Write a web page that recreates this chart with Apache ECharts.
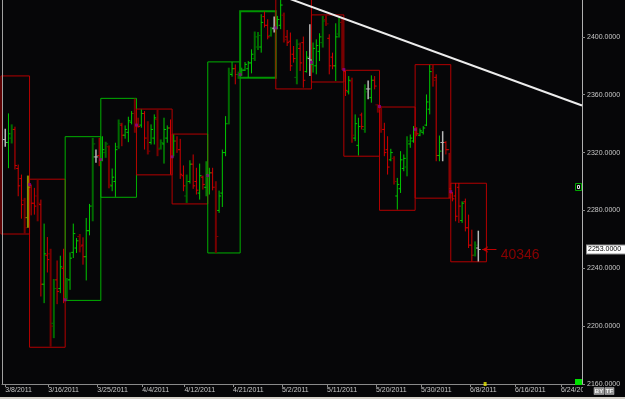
<!DOCTYPE html>
<html><head><meta charset="utf-8">
<script src="https://cdn.jsdelivr.net/npm/echarts@6/dist/echarts.min.js"></script>
<style>html,body{margin:0;padding:0;background:#060608;}#c{width:625px;height:399px;}</style>
</head><body><div id="c"></div>
<script>
// ---- X axis date ticks (bar slot positions) ----
const tickSlots = [1, 14.3, 29.4, 43.3, 56.3, 71.3, 86.4, 100.3, 115.4, 129.3, 144.4, 158.3, 172.5];
const tickLabels = ['3/8/2011','3/16/2011','3/25/2011','4/4/2011','4/12/2011','4/21/2011','5/2/2011','5/11/2011','5/20/2011','5/30/2011','6/8/2011','6/16/2011','6/24/2011'];
const yTicks = [2160, 2200, 2240, 2280, 2320, 2360, 2400];

// ---- OHLC bars (one per slot, starting at slot 1) ----
const barOpen = [
 2329,2327,2330,2336,2309,2302,2287,2275,
 2297,2285,2290,2284,2229,2249,2250,2202,2232,2226,2240,
 2219,2232,2251,2254,2262,2256,2248,2266,2283,2317,2318,
 2315,2320,2324,2297,2300,2324,2339,2332,2334,2341,2347,
 2339,2339,2347,2330,2327,2330,2343,2323,2326,2330,2337,
 2317,2328,2322,2304,2290,2300,2312,2300,2292,2303,2296,
 2304,2306,2296,2280,2292,2320,2340,2374,2378,2374,
 2374,2377,2378,2382,2385,2393,2393,2414,2408,2401,2406,
 2406,2408,2415,2400,2397,2388,2372,2392,2396,2376,2385,
 2381,2380,2390,2396,2412,2399,2386,2380,2402,2410,
 2376,2362,2369,2330,2325,2346,2336,2364,2358,2370,2353,
 2350,2336,2322,2315,2316,2290,2295,2309,2310,2326,2328,
 2336,2332,2334,2339,2350,2378,2372,2318,2327,2327,2322,
 2292,2290,2296,2273,2286,2268,2256,2249,2254];
const barClose = [
 2327,2333,2336,2311,2297,2284,2268,2296,
 2285,2283,2285,2229,2250,2246,2200,2226,2224,2241,2219,
 2232,2247,2264,2259,2255,2248,2266,2283,2326,2317,2315,
 2322,2326,2298,2303,2322,2340,2332,2336,2342,2347,2339,
 2338,2347,2330,2321,2336,2344,2322,2327,2336,2337,2317,
 2328,2322,2305,2297,2300,2312,2297,2294,2304,2298,2305,
 2306,2296,2262,2290,2320,2340,2375,2378,2374,2374,
 2377,2381,2382,2388,2400,2401,2410,2408,2400,2405,2406,
 2412,2422,2398,2396,2380,2385,2395,2382,2370,2386,2384,
 2392,2394,2400,2411,2409,2380,2380,2400,2410,2377.5,
 2363,2370,2332,2340,2338,2338,2362,2364,2370,2366,2352,
 2336,2320,2310,2320,2300,2298,2315,2316,2328,2330,2336,
 2333,2335,2337,2355,2376,2370,2318,2321,2327,2322,2295,
 2288,2276,2283,2285,2268,2256,2249,2256,2253];
const barLow = [
 2324,2309.2,2326.3,2308.3,2289.8,2274.3,2263.9,2268,
 2276.6,2277.1,2272.5,2220.5,2215.9,2237.1,2185.8,2191.7,2215.2,2222.8,2215.9,
 2218.2,2225.1,2247.1,2250.6,2251,2242.5,2231.6,2262.8,2272.5,2312.9,2310.6,
 2314,2316.4,2295.3,2293.3,2289.4,2322.6,2324.4,2329.6,2327.2,2339.5,2333.7,
 2337.2,2337.2,2322.1,2318.7,2325.6,2325.6,2317.5,2322.1,2312.4,2326.8,2304.8,
 2317.5,2319.8,2301.8,2293.3,2285.2,2298.6,2294.9,2291,2287.5,2294.4,2289.8,
 2291,2293.9,2250.6,2278.3,2282.4,2317.5,2339.5,2372.5,2367.2,2371,
 2372.9,2376.4,2371.8,2374.8,2383.3,2390.9,2389.1,2406.5,2398.3,2400.2,2403,
 2405.3,2405.3,2396.1,2393.7,2376.4,2382.2,2367.2,2376.4,2364.9,2375.3,2372.9,
 2375.3,2374.1,2383.3,2392.6,2407.6,2374.1,2377.6,2369.5,2399.5,2377,
 2359.1,2360.2,2326.8,2327.9,2318,2336,2333.7,2356.8,2354.5,2363.7,2347.6,
 2333.7,2317.5,2304.8,2314,2297.9,2280.6,2292.1,2307.1,2303.6,2323.3,2326.8,
 2331.3,2331.3,2332.5,2338.3,2346.4,2365.6,2314,2314,2314,2318.7,2288.5,
 2286.3,2272.5,2271.4,2271.4,2265.5,2254,2244.7,2248.2,2244.7];
const barHigh = [
 2336.5,2347.1,2339.5,2337.9,2311.7,2304.8,2288.7,2304.1,
 2297.9,2295.6,2301.3,2287.5,2270.9,2261.6,2253.5,2232.6,2245.4,2248.7,2253.5,
 2233.3,2251,2270.9,2260.9,2263.7,2261.4,2274.8,2284.5,2330.2,2322.1,2330.2,
 2331.3,2327.5,2324.9,2309,2326.8,2342.9,2340.6,2338.8,2344.8,2348.7,2357.3,
 2344.1,2349.8,2348.7,2341.7,2339.5,2346.4,2349.8,2329.1,2344.1,2338.8,2342.9,
 2332.5,2331.3,2329.5,2311.1,2304.8,2314.7,2318.7,2309.5,2312.4,2304.1,2314,
 2309.5,2309.5,2300.2,2293.7,2322.1,2345.2,2378.7,2382.6,2381,2376,
 2378.7,2382.6,2383.3,2391.4,2403.7,2403.4,2415.7,2417.5,2412.2,2406.9,2414.1,
 2414.5,2428,2416.8,2404.8,2403,2393.7,2398.3,2396.1,2400.2,2390.2,2408.7,
 2396.1,2398.3,2402.5,2414.5,2415,2401.8,2389.1,2409.4,2413.4,2413.4,
 2376.4,2372.9,2371.8,2346.4,2344.1,2347.6,2367.2,2369.9,2373.4,2372.9,2353.3,
 2352.1,2340.6,2331.3,2322.6,2317.5,2302.5,2321,2318.7,2331.3,2332.5,2338.3,
 2337.6,2336.7,2338.3,2360.2,2380.6,2380.6,2374.1,2331.8,2334.8,2327.9,2319.8,
 2292.8,2299,2299,2286.3,2288.2,2277.1,2266.7,2258.6,2266];
// bar kind: G up, g up (dark), R down, r down (dark), W neutral, Y olive
const barKind = [
 'W','G','g','R','R','R','r','Y',
 'R','R','r','R','G','R','r','g','R','G','R',
 'g','G','G','G','r','R','G','G','g','W','R',
 'G','g','r','G','G','g','R','G','G','G','r',
 'R','G','R','r','G','G','r','g','G','G','R',
 'G','r','R','R','g','G','R','R','G','R','G',
 'G','R','r','G','G','G','g','G','R','g',
 'G','G','G','G','g','g','G','R','R','g','W',
 'G','G','r','R','R','R','g','R','R','G','W',
 'G','G','G','g','r','R','R','G','g','r',
 'R','G','r','G','G','R','g','W','G','R','r',
 'r','R','R','G','r','G','G','G','g','G','G',
 'R','G','G','G','G','r','R','G','W','R','R',
 'R','R','R','G','R','R','R','g','W'];

// ---- Weekly range boxes ----
const weekStart = [-0.3, 8.5, 19.5, 30.5, 41.5, 52.5, 63.5, 73.5, 84.5, 95.5, 105.5, 116.5, 127.5, 138.5];
const weekEnd   = [8.5, 19.5, 30.5, 41.5, 52.5, 63.5, 73.5, 84.5, 95.5, 105.5, 116.5, 127.5, 138.5, 149.5];
const weekHigh  = [2373, 2301.6, 2331, 2357.5, 2350.1, 2332.8, 2382.7, 2417.7, 2428, 2415.2, 2376.9, 2351.5, 2380.8, 2298.8];
const weekLow   = [2263.7, 2185.4, 2217.8, 2289.1, 2304.6, 2284.5, 2250.6, 2371.8, 2364, 2368.8, 2317.5, 2280.1, 2288.5, 2244.5];
const weekOpen  = [2340, 2297.9, 2218.2, 2315.2, 2339, 2317.1, 2304.1, 2373.9, 2406.2, 2382.4, 2377.4, 2351.9, 2336, 2293];
const weekClose = [2297.9, 2218.2, 2315.2, 2339, 2317.1, 2304.1, 2373.9, 2406.2, 2382.4, 2377.4, 2351.9, 2336, 2293, 2253];

// ---- Trendline and last-price annotations ----
const trendSlots = [85, 179];
const trendValues = [2429.4, 2352.6];
const lastPrice = 2253;
const tagText = '40346';
const markerSlot = 149.1;

const kindColor = {G:'#00c800', g:'#006a00', R:'#d20000', r:'#760000', W:'#b8b8b8', Y:'#8c8c00'};
const kindWidth = {G:1, g:2, R:1, r:2, W:1.5, Y:2};

const ohlcData = barOpen.map((o, i) => [i + 1, o, barClose[i], barLow[i], barHigh[i]]);
const weekData = weekStart.map((s, i) => [s, weekEnd[i], weekHigh[i], weekLow[i], weekOpen[i], weekClose[i]]);
const openMarks = weekStart.slice(1).map((s, i) => [s, weekOpen[i + 1]]);
const trendData = trendSlots.map((s, i) => [s, trendValues[i]]);

const chart = echarts.init(document.getElementById('c'), null, {renderer: 'canvas'});
const FONT = 'Liberation Sans';
const AX = '#8a8a8a';

chart.setOption({
  animation: false,
  backgroundColor: '#060608',
  grid: {left: 2, right: 43, top: 0, bottom: 15},
  xAxis: {
    type: 'value', min: 0, max: 179,
    splitLine: {show: false},
    axisLine: {show: true, onZero: false, lineStyle: {color: AX, width: 1}},
    axisTick: {show: true, customValues: tickSlots, length: 3, lineStyle: {color: AX}},
    axisLabel: {
      show: true, customValues: tickSlots, interval: 0, align: 'left', margin: 3,
      color: '#c8c8c8', fontSize: 7, fontFamily: FONT,
      formatter: v => {
        let best = 0;
        tickSlots.forEach((t, i) => { if (Math.abs(t - v) < Math.abs(tickSlots[best] - v)) best = i; });
        return tickLabels[best];
      }
    }
  },
  yAxis: {
    type: 'value', position: 'right', min: 2160, max: 2425.5,
    splitLine: {show: false},
    axisLine: {show: true, onZero: false, lineStyle: {color: '#b0b0b0', width: 1}},
    axisTick: {show: true, customValues: yTicks, length: 3, lineStyle: {color: AX}},
    axisLabel: {show: true, customValues: yTicks, margin: 5, color: '#c8c8c8', fontSize: 7, fontFamily: FONT,
      formatter: v => Number(v).toFixed(4)}
  },
  series: [
    {
      type: 'custom', name: 'weeks', data: weekData, z: 2,
      encode: {x: [0, 1], y: [2, 3]},
      renderItem: (params, api) => {
        const p1 = api.coord([api.value(0), api.value(2)]);
        const p2 = api.coord([api.value(1), api.value(3)]);
        const up = api.value(5) >= api.value(4);
        const heavy = params.dataIndex === 7;
        return {type: 'rect', shape: {x: p1[0], y: p1[1], width: p2[0] - p1[0], height: p2[1] - p1[1]},
          style: {fill: 'none', stroke: up ? (heavy ? '#009400' : '#00b000') : '#b40000', lineWidth: heavy ? 2 : 1}};
      }
    },
    {
      type: 'custom', name: 'bars', data: ohlcData, z: 3,
      encode: {x: 0, y: [1, 2, 3, 4]},
      renderItem: (params, api) => {
        const x = api.value(0);
        const pO = api.coord([x, api.value(1)]);
        const pC = api.coord([x, api.value(2)]);
        const pL = api.coord([x, api.value(3)]);
        const pH = api.coord([x, api.value(4)]);
        const k = barKind[params.dataIndex];
        const col = kindColor[k], lw = kindWidth[k];
        const t = 1.5;
        const st = {stroke: col, lineWidth: lw};
        return {type: 'group', children: [
          {type: 'line', shape: {x1: pH[0], y1: pH[1], x2: pL[0], y2: pL[1]}, style: st},
          {type: 'line', shape: {x1: pO[0] - t - lw / 2, y1: pO[1], x2: pO[0], y2: pO[1]}, style: {stroke: col, lineWidth: 1}},
          {type: 'line', shape: {x1: pC[0], y1: pC[1], x2: pC[0] + t + lw / 2, y2: pC[1]}, style: {stroke: col, lineWidth: 1}}
        ]};
      }
    },
    {
      type: 'scatter', name: 'weekOpen', data: openMarks, z: 4,
      symbol: 'rect', symbolSize: [3, 3], itemStyle: {color: '#8c008c'}
    },
    {
      type: 'line', name: 'trend', data: trendData, z: 5, symbol: 'none',
      lineStyle: {color: '#ececec', width: 2},
      markLine: {
        silent: true, symbol: ['none', 'none'],
        lineStyle: {color: 'rgba(0,0,0,0)', width: 1, type: 'solid'},
        label: {show: true, position: 'end', distance: 5, formatter: lastPrice.toFixed(4),
          backgroundColor: '#ffffff', color: '#000000', fontSize: 7, fontFamily: FONT,
          padding: [1, 10, 0, 1], borderColor: '#909090', borderWidth: 1},
        data: [{yAxis: lastPrice}]
      }
    },
    {
      type: 'scatter', name: 'tag', data: [[153.9, 2249.3]], z: 6, symbolSize: 0, clip: false,
      label: {show: true, position: 'right', distance: 0, formatter: tagText,
        color: '#a80000', fontSize: 14, fontFamily: FONT},
      markLine: {
        silent: true, symbol: ['none', 'arrow'], symbolSize: [5, 6],
        lineStyle: {color: '#c00000', width: 1, type: 'solid'}, label: {show: false},
        data: [[{coord: [152.6, lastPrice]}, {coord: [148.2, lastPrice]}]]
      }
    },
    {
      type: 'scatter', name: 'marker', data: [[markerSlot, 2160]], z: 6, clip: false,
      symbol: 'rect', symbolSize: [3, 4], itemStyle: {color: '#e8e800'}
    }
  ],
  graphic: [
    {type: 'line', z: 100, shape: {x1: 2.5, y1: 0, x2: 2.5, y2: 384}, style: {stroke: '#a0a0a0', lineWidth: 1}},
    {type: 'rect', z: 100, shape: {x: 583, y: 386, width: 11, height: 11}, style: {fill: '#060608'}},
    {type: 'rect', z: 100, shape: {x: 575.5, y: 183.5, width: 6, height: 7}, style: {fill: '#060608', stroke: '#00a800', lineWidth: 1}},
    {type: 'rect', z: 101, shape: {x: 577.5, y: 185.5, width: 2, height: 3}, style: {fill: 'none', stroke: '#e0e0e0', lineWidth: 1}},
    {type: 'rect', z: 100, shape: {x: 575, y: 379, width: 7, height: 6}, style: {fill: '#00e000'}},
    {type: 'rect', z: 100, shape: {x: 594, y: 387.5, width: 10, height: 7}, style: {fill: '#909090', stroke: '#c0c0c0', lineWidth: 0.5}},
    {type: 'text', z: 101, style: {x: 599, y: 391, text: 'BY', fill: '#f4f4f4', font: 'bold 6px Liberation Sans', align: 'center', verticalAlign: 'middle'}},
    {type: 'rect', z: 100, shape: {x: 605, y: 387.5, width: 9, height: 7}, style: {fill: '#909090', stroke: '#c0c0c0', lineWidth: 0.5}},
    {type: 'text', z: 101, style: {x: 609.5, y: 391, text: 'TF', fill: '#f4f4f4', font: 'bold 6px Liberation Sans', align: 'center', verticalAlign: 'middle'}},
    {type: 'rect', z: 100, shape: {x: 0, y: 397, width: 625, height: 2}, style: {fill: '#d4d0c8'}}
  ]
});
</script></body></html>
